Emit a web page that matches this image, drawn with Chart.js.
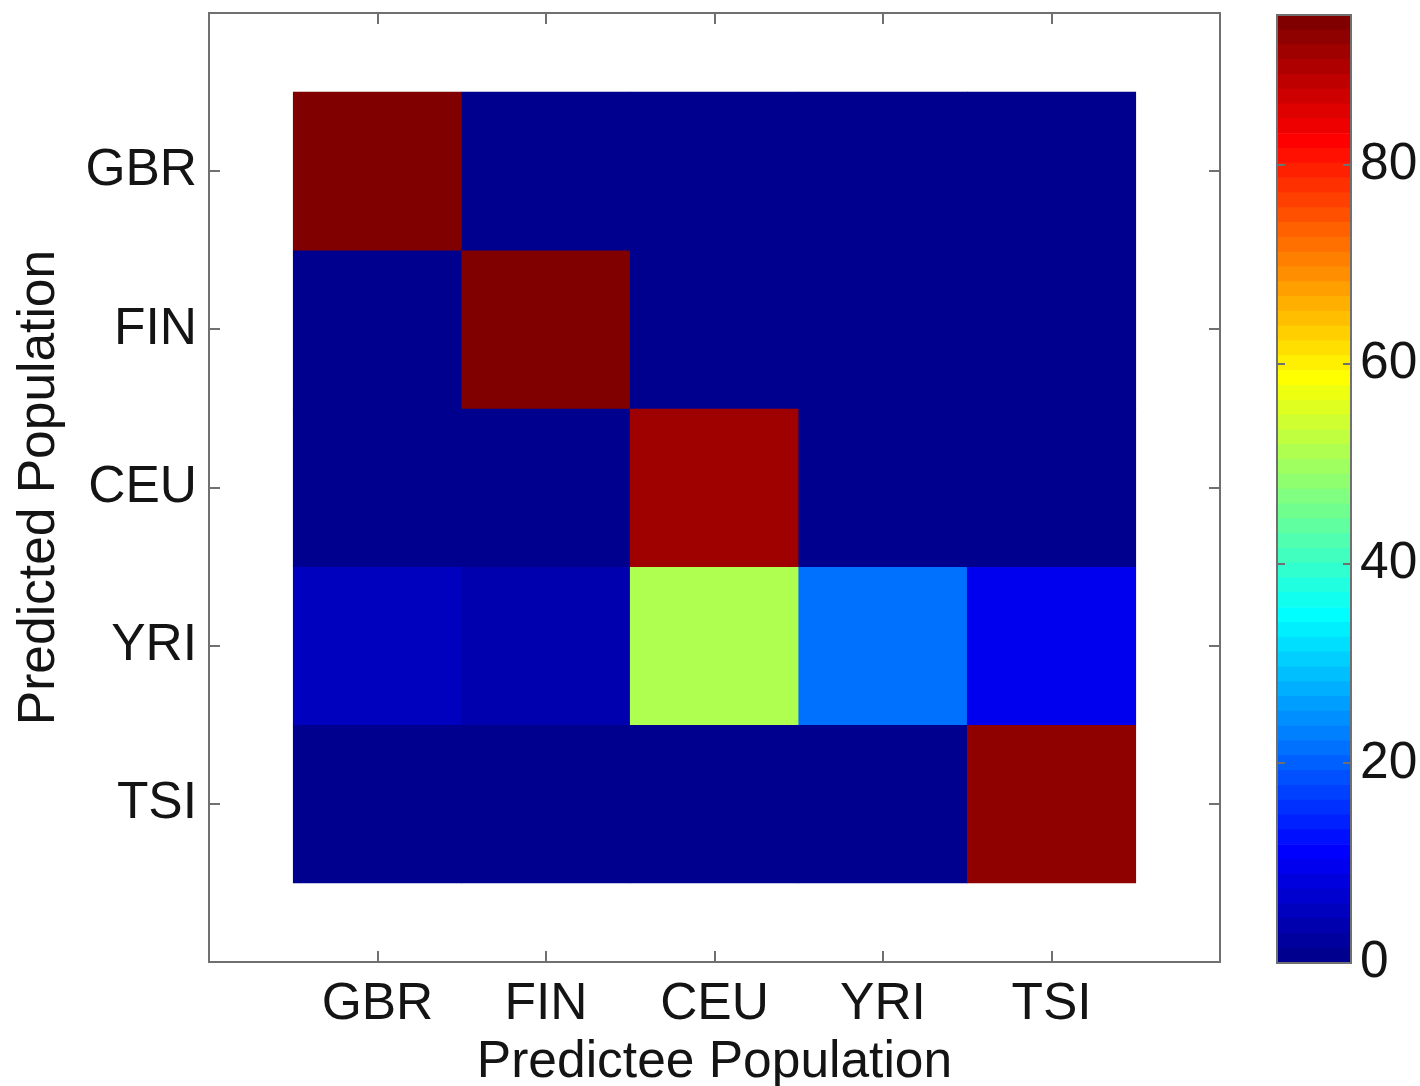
<!DOCTYPE html>
<html>
<head>
<meta charset="utf-8">
<script src="https://cdn.jsdelivr.net/npm/chart.js@4/dist/chart.umd.min.js"></script>
<style>
  html, body { margin: 0; padding: 0; background: #fff; }
  #wrap { position: relative; width: 1420px; height: 1086px; overflow: hidden; }
  #main { position: absolute; left: 0; top: 0; }
  #cbar { position: absolute; left: 1260px; top: 0; }
</style>
</head>
<body>
<div id="wrap">
  <canvas id="main" width="1260" height="1086"></canvas>
  <canvas id="cbar" width="160" height="1086"></canvas>
</div>
<script>
// Population labels (rows = predicted, columns = predictee)
const populations = ['GBR', 'FIN', 'CEU', 'YRI', 'TSI'];

// Percentage of predictions, one array per predicted population (row)
const rowGBR = [95, 0, 0, 0, 0];
const rowFIN = [0, 94, 0, 0, 0];
const rowCEU = [0, 0, 91, 0, 0];
const rowYRI = [5, 3.5, 51, 22, 10];
const rowTSI = [0, 0, 0, 0, 93];

// Colour bar tick labels
const colorbarTicks = [0, 20, 40, 60, 80];

const rows = [rowGBR, rowFIN, rowCEU, rowYRI, rowTSI];

const FONT = { family: "'Liberation Sans', Arial, sans-serif", size: 51.5 };
const TEXT = '#141414';
const FRAME = '#707070';

// 64-level jet colour map, scaled between the smallest and largest cell
const NLEV = 64;
const cmin = Math.min(...rows.flat());
const cmax = Math.max(...rows.flat());
function jet(k) {
  const c = v => Math.round(255 * Math.max(0, Math.min(1, v)));
  const r = Math.min((k - 24) / 16, (72 - k) / 16);
  const g = Math.min((k - 8) / 16, (56 - k) / 16);
  const b = Math.min((k + 8) / 16, (40 - k) / 16);
  return `rgb(${c(r)},${c(g)},${c(b)})`;
}
function levelOf(v) {
  return Math.min(NLEV, Math.floor((v - cmin) / (cmax - cmin) * NLEV) + 1);
}

// Box around the plot area with inward tick marks on every side
function framePlugin(id, len) {
  return {
    id,
    afterDatasetsDraw(chart) {
      const { ctx, chartArea: a, scales } = chart;
      ctx.save();
      ctx.strokeStyle = FRAME;
      ctx.lineWidth = 2;
      ctx.strokeRect(a.left, a.top, a.right - a.left, a.bottom - a.top);
      ctx.beginPath();
      const xs = scales.x, ys = scales.y;
      if (xs.options.display !== false) {
        xs.ticks.forEach(t => {
          const p = Math.round(xs.getPixelForValue(t.value));
          ctx.moveTo(p, a.bottom); ctx.lineTo(p, a.bottom - len);
          ctx.moveTo(p, a.top); ctx.lineTo(p, a.top + len);
        });
      }
      ys.ticks.forEach(t => {
        const p = Math.round(ys.getPixelForValue(t.value));
        ctx.moveTo(a.left, p); ctx.lineTo(a.left + len, p);
        ctx.moveTo(a.right, p); ctx.lineTo(a.right - len, p);
      });
      ctx.stroke();
      ctx.restore();
    }
  };
}

// Fixed-size axes that do not push the plot area for label overhang
const fixHeight = h => s => { s.height = h; s.paddingLeft = 0; s.paddingRight = 0; };
const fixWidth = w => s => { s.width = w; s.paddingTop = 0; s.paddingBottom = 0; };

// One floating-bar dataset per row; each bar spans one cell
const cellSets = rows.map((row, r) => ({
  data: row.map((v, c) => ({ x: c + 1, y: [r + 0.5, r + 1.5] })),
  backgroundColor: row.map(v => jet(levelOf(v))),
  borderWidth: 0,
  grouped: false,
  barPercentage: 1,
  categoryPercentage: 1
}));

const positions = populations.map((_, i) => ({ value: i + 1 }));

new Chart(document.getElementById('main'), {
  type: 'bar',
  data: { datasets: cellSets },
  options: {
    responsive: false,
    animation: false,
    events: [],
    layout: { padding: { top: 13, right: 40, left: 0, bottom: 0 } },
    plugins: { legend: { display: false }, tooltip: { enabled: false } },
    scales: {
      x: {
        type: 'linear', min: 0, max: 6, offset: false,
        afterBuildTicks: s => { s.ticks = positions.map(p => ({ ...p })); },
        afterFit: fixHeight(124),
        grid: { display: false, offset: false },
        border: { display: false },
        ticks: {
          autoSkip: false, maxRotation: 0, padding: 4,
          font: FONT, color: TEXT,
          callback: v => populations[v - 1]
        },
        title: {
          display: true, text: 'Predictee Population',
          font: { ...FONT, lineHeight: 0.9 }, color: TEXT, padding: { top: 0, bottom: 0 }
        }
      },
      y: {
        type: 'linear', min: 0, max: 6, reverse: true,
        afterBuildTicks: s => { s.ticks = positions.map(p => ({ ...p })); },
        afterFit: fixWidth(209),
        grid: { display: false },
        border: { display: false },
        ticks: {
          autoSkip: false, padding: 4,
          font: FONT, color: TEXT,
          callback: v => populations[v - 1]
        },
        title: {
          display: true, text: 'Predicted Population',
          font: FONT, color: TEXT, padding: { top: 9, bottom: 0 }
        }
      }
    }
  },
  plugins: [framePlugin('plotFrame', 11)]
});

// Colour bar: one floating bar per colour level
const levelBars = [];
for (let k = 1; k <= NLEV; k++) {
  const lo = cmin + (k - 1) / NLEV * (cmax - cmin);
  const hi = cmin + k / NLEV * (cmax - cmin);
  levelBars.push({
    data: [{ x: 'scale', y: [lo, hi] }],
    backgroundColor: jet(k),
    borderWidth: 0,
    grouped: false,
    barPercentage: 1,
    categoryPercentage: 1
  });
}

new Chart(document.getElementById('cbar'), {
  type: 'bar',
  data: { labels: ['scale'], datasets: levelBars },
  options: {
    responsive: false,
    animation: false,
    events: [],
    layout: { padding: { top: 15, right: 0, left: 17, bottom: 123 } },
    plugins: { legend: { display: false }, tooltip: { enabled: false } },
    scales: {
      x: { display: false },
      y: {
        type: 'linear', position: 'right', min: cmin, max: cmax,
        afterBuildTicks: s => { s.ticks = colorbarTicks.map(v => ({ value: v })); },
        afterFit: fixWidth(69),
        grid: { display: false },
        border: { display: false },
        ticks: { padding: 1, font: FONT, color: TEXT }
      }
    }
  },
  plugins: [framePlugin('barFrame', 8)]
});
</script>
</body>
</html>
